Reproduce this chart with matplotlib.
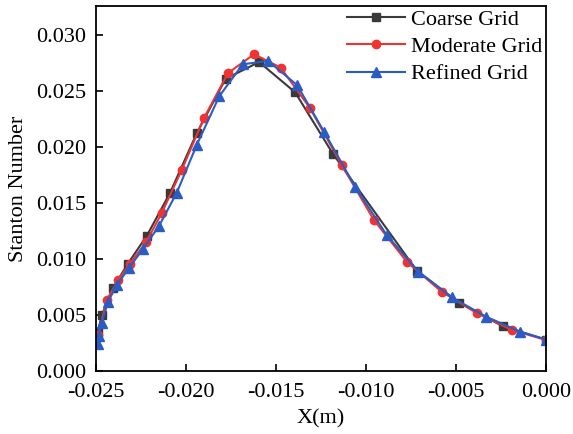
import matplotlib
matplotlib.use("Agg")
import matplotlib.pyplot as plt

coarse_x = [-0.0249, -0.02467, -0.02406, -0.02322, -0.02217, -0.02089, -0.0194, -0.0178,
            -0.01594, -0.01394, -0.01183, -0.00718, -0.00483, -0.00241, 0.0]
coarse_y = [0.0035, 0.0050, 0.0074, 0.0096, 0.0121, 0.0159, 0.02125, 0.0261,
            0.0276, 0.0249, 0.01938, 0.00896, 0.0061, 0.0040, 0.0028]

moderate_x = [-0.02488, -0.0244, -0.02378, -0.02311, -0.02222, -0.02135, -0.02024, -0.0190,
              -0.01767, -0.01622, -0.01474, -0.01311, -0.01135, -0.00956, -0.00772,
              -0.0058, -0.00385, -0.0019, 0.0]
moderate_y = [0.0032, 0.00634, 0.0081, 0.0096, 0.0115, 0.0141, 0.01795, 0.0226,
              0.0266, 0.0283, 0.0271, 0.02348, 0.0184, 0.01348, 0.00973,
              0.00708, 0.00518, 0.00366, 0.00277]

refined_x = [-0.02488, -0.02485, -0.02468, -0.02433, -0.02383, -0.02317, -0.02239, -0.0215,
             -0.02052, -0.0194, -0.01815, -0.01685, -0.01544, -0.01383, -0.01233,
             -0.01061, -0.00885, -0.00709, -0.00524, -0.00333, -0.00144, 0.0]
refined_y = [0.0024, 0.0031, 0.0043, 0.0062, 0.0077, 0.0092, 0.0109, 0.01295,
             0.0159, 0.0202, 0.02455, 0.0274, 0.0277, 0.02554, 0.02137,
             0.01646, 0.01214, 0.00887, 0.00658, 0.00485, 0.00351, 0.0028]

xticks = [-0.025, -0.020, -0.015, -0.010, -0.005, 0.000]
yticks = [0.000, 0.005, 0.010, 0.015, 0.020, 0.025, 0.030]

plt.rcParams['font.family'] = ['Liberation Serif', 'DejaVu Serif']
fig = plt.figure(figsize=(5.73, 4.34), dpi=100)
ax = fig.add_axes([0.1675, 0.1452, 0.7855, 0.8408])

ax.plot(coarse_x, coarse_y, color='#3a3a3a', marker='s', markersize=5.5, lw=1.5, label='Coarse Grid')
ax.plot(moderate_x, moderate_y, color='#ee3333', marker='o', markersize=6, lw=1.5, label='Moderate Grid')
ax.plot(refined_x, refined_y, color='#2a5cc4', marker='^', markersize=6.5, lw=1.5, label='Refined Grid')

ax.set_xlim(-0.025, 0.0)
ax.set_ylim(0, 0.0326)
ax.set_xticks(xticks)
ax.set_xticklabels([f"{v:.3f}" for v in xticks])
ax.set_yticks(yticks)
ax.set_yticklabels([f"{v:.3f}" for v in yticks])
ax.tick_params(direction='in', labelsize=16, length=5, width=1.2)
ax.tick_params(axis='y', pad=7)
ax.tick_params(axis='x', pad=9)
for s in ax.spines.values():
    s.set_linewidth(1.3)
ax.set_xlabel('X(m)', fontsize=16, labelpad=5)
ax.set_ylabel('Stanton Number', fontsize=16, labelpad=6)

leg = ax.legend(loc='upper right', frameon=False, fontsize=16, handlelength=2.6,
                borderaxespad=0.0, labelspacing=0.3, handletextpad=0.3,
                borderpad=0.15)

fig.savefig('out.png', dpi=100)
